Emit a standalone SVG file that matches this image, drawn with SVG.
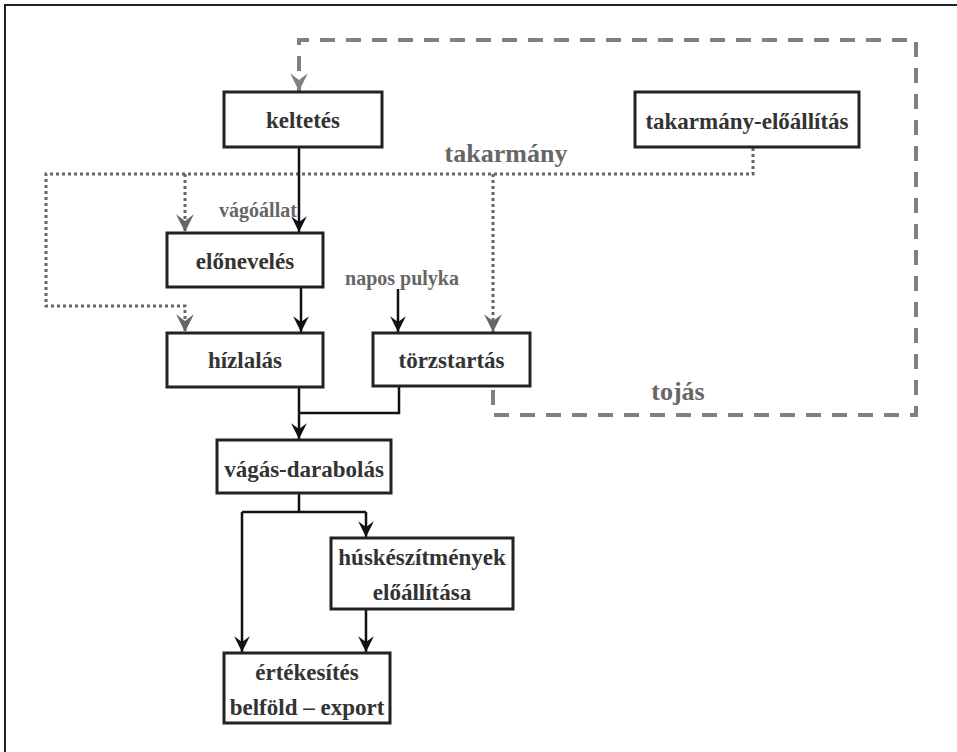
<svg xmlns="http://www.w3.org/2000/svg" width="957" height="752" viewBox="0 0 957 752">
<style>
.box{fill:#fff;stroke:#222;stroke-width:3}
.nt{font-family:"Liberation Serif","Times New Roman",serif;font-weight:bold;font-size:23px;fill:#333;text-anchor:middle}
.lb{font-family:"Liberation Serif","Times New Roman",serif;font-weight:bold;font-size:20px;fill:#666;text-anchor:middle}
.lbb{font-family:"Liberation Serif","Times New Roman",serif;font-weight:bold;font-size:26px;fill:#666;text-anchor:middle}
.solid{fill:none;stroke:#111;stroke-width:2.5}
.dot{fill:none;stroke:#666;stroke-width:3;stroke-dasharray:3 3}
.dash{fill:none;stroke:#808080;stroke-width:4;stroke-dasharray:15 11}
</style>
<defs>
<marker id="ab" markerUnits="userSpaceOnUse" markerWidth="18" markerHeight="18" viewBox="-15 -8 16 16" refX="0" refY="0" orient="auto">
<path d="M0,0 L-14,-7 L-9,0 L-14,7 Z" fill="#111"/>
</marker>
<marker id="ag" markerUnits="userSpaceOnUse" markerWidth="20" markerHeight="20" viewBox="-17 -9 18 18" refX="0" refY="0" orient="auto">
<path d="M0,0 L-16,-8 L-10,0 L-16,8 Z" fill="#666"/>
</marker>
<marker id="ad" markerUnits="userSpaceOnUse" markerWidth="20" markerHeight="20" viewBox="-17 -9 18 18" refX="0" refY="0" orient="auto">
<path d="M0,0 L-16,-8 L-10,0 L-16,8 Z" fill="#808080"/>
</marker>
</defs>
<rect width="957" height="752" fill="#fff"/>
<g id="frame" fill="none" stroke="#222" stroke-width="2">
<path d="M5,752 V5 H957"/>
</g>
<g id="connectors">
<path class="dash" d="M493,390 V415 H916 V40 H299 V91" marker-end="url(#ad)"/>
<path class="dot" d="M753,148 V174 H46 V306 H185 V332" marker-end="url(#ag)"/>
<path class="dot" d="M185,174 V232" marker-end="url(#ag)"/>
<path class="dot" d="M493,174 V332" marker-end="url(#ag)"/>
<path class="solid" d="M299,147 V232" marker-end="url(#ab)"/>
<path class="solid" d="M301,287 V332" marker-end="url(#ab)"/>
<path class="solid" d="M398,289 V332" marker-end="url(#ab)"/>
<path class="solid" d="M299,387 V439" marker-end="url(#ab)"/>
<path class="solid" d="M399,386 V413 H299"/>
<path class="solid" d="M299,493 V512 M242,512 H366"/>
<path class="solid" d="M366,512 V537" marker-end="url(#ab)"/>
<path class="solid" d="M242,512 V652" marker-end="url(#ab)"/>
<path class="solid" d="M366,609 V652" marker-end="url(#ab)"/>
</g>
<g id="labels">
<text class="lbb" x="506" y="162">takarmány</text>
<text class="lbb" x="678" y="400">tojás</text>
<text class="lb" x="258" y="217">vágóállat</text>
<text class="lb" x="402" y="285">napos pulyka</text>
</g>
<g id="n-keltetes">
<rect class="box" x="224" y="92" width="158" height="55"/>
<text class="nt" x="303" y="128">keltetés</text>
</g>
<g id="n-takarmany-eloallitas">
<rect class="box" x="635" y="92" width="224" height="55"/>
<text class="nt" x="747" y="129">takarmány-előállítás</text>
</g>
<g id="n-elonevelés">
<rect class="box" x="167" y="233" width="156" height="54"/>
<text class="nt" x="245" y="269">előnevelés</text>
</g>
<g id="n-hizlalas">
<rect class="box" x="167" y="333" width="156" height="54"/>
<text class="nt" x="245" y="368">hízlalás</text>
</g>
<g id="n-torzstartas">
<rect class="box" x="373" y="333" width="157" height="53"/>
<text class="nt" x="451.5" y="368">törzstartás</text>
</g>
<g id="n-vagas-darabolas">
<rect class="box" x="217" y="440" width="174" height="53"/>
<text class="nt" x="304" y="477">vágás-darabolás</text>
</g>
<g id="n-huskeszitmenyek">
<rect class="box" x="331" y="538" width="182" height="71"/>
<text class="nt" x="422" y="565">húskészítmények</text>
<text class="nt" x="422" y="600">előállítása</text>
</g>
<g id="n-ertekesites">
<rect class="box" x="224" y="653" width="166" height="70"/>
<text class="nt" x="307" y="680">értékesítés</text>
<text class="nt" x="307" y="715">belföld – export</text>
</g>
</svg>
